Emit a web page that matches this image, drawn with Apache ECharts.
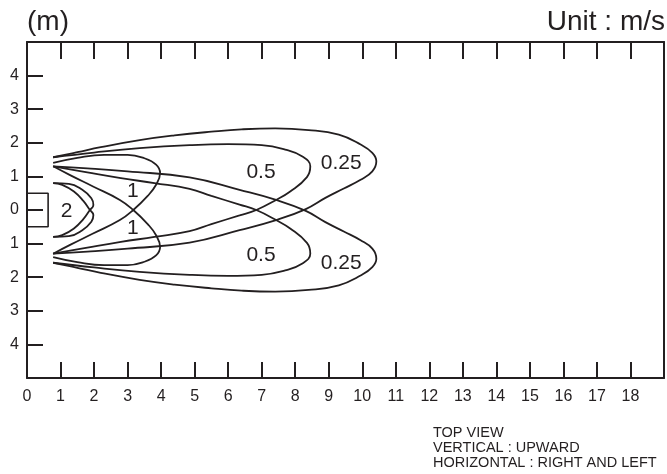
<!DOCTYPE html>
<html>
<head>
<meta charset="utf-8">
<script src="https://cdn.jsdelivr.net/npm/echarts@6/dist/echarts.min.js"></script>
<style>
html,body{margin:0;padding:0;background:#fff;}
#chart{width:667px;height:474px;}
</style>
</head>
<body>
<div id="chart"></div>
<script>
// ---- data ----
const xTickLabels = ['0','1','2','3','4','5','6','7','8','9','10','11','12','13','14','15','16','17','18'];
const yTickValues = [4,3,2,1,0,-1,-2,-3,-4];
const yTickLabels = ['4','3','2','1','0','1','2','3','4'];

// contour 0.25 m/s
const c025Upper = [[0.78,1.57],[1.5,1.72],[2.2,1.87],[3.36,2.08],[4.4,2.22],[5.5,2.33],[6.4,2.4],[7.4,2.43],[8.4,2.38],[9.3,2.24],[9.95,1.95],[10.3,1.7],[10.42,1.45],[10.3,1.15],[9.95,0.9],[9.45,0.64],[8.9,0.36],[8.3,0.02],[7.43,-0.3],[6.34,-0.6],[4.85,-0.97],[3.0,-1.15],[1.8,-1.24],[0.78,-1.3]];
const c025Lower = [[0.78,-1.57],[1.5,-1.72],[2.2,-1.87],[3.36,-2.08],[4.4,-2.22],[5.5,-2.33],[6.4,-2.4],[7.4,-2.43],[8.4,-2.38],[9.3,-2.24],[9.95,-1.95],[10.3,-1.7],[10.42,-1.45],[10.3,-1.15],[9.95,-0.9],[9.45,-0.64],[8.9,-0.36],[8.3,-0.02],[7.43,0.3],[6.34,0.6],[4.85,0.97],[3.0,1.15],[1.8,1.24],[0.78,1.3]];
// contour 0.5 m/s
const c05Upper = [[0.78,1.57],[2.0,1.71],[3.36,1.84],[4.85,1.93],[6.0,1.96],[7.0,1.93],[7.7,1.8],[8.2,1.6],[8.45,1.3],[8.35,0.98],[7.85,0.55],[7.43,0.3],[6.84,0.0],[6.34,-0.16],[5.5,-0.42],[4.85,-0.63],[3.8,-0.8],[2.8,-0.95],[1.8,-1.12],[0.78,-1.3]];
const c05Lower = [[0.78,-1.57],[2.0,-1.71],[3.36,-1.84],[4.85,-1.93],[6.0,-1.96],[7.0,-1.93],[7.7,-1.8],[8.2,-1.6],[8.45,-1.3],[8.35,-0.98],[7.85,-0.55],[7.43,-0.3],[6.84,0.0],[6.34,0.16],[5.5,0.42],[4.85,0.63],[3.8,0.8],[2.8,0.95],[1.8,1.12],[0.78,1.3]];
// contour 1 m/s
const c1Upper = [[0.78,1.4],[1.5,1.55],[2.3,1.64],[3.0,1.64],[3.5,1.54],[3.85,1.35],[3.97,1.1],[3.85,0.75],[3.6,0.42],[3.17,0.0],[2.77,-0.3],[1.97,-0.7],[1.3,-1.03],[0.78,-1.3]];
const c1Lower = [[0.78,-1.4],[1.5,-1.55],[2.3,-1.64],[3.0,-1.64],[3.5,-1.54],[3.85,-1.35],[3.97,-1.1],[3.85,-0.75],[3.6,-0.42],[3.17,0.0],[2.77,0.3],[1.97,0.7],[1.3,1.03],[0.78,1.3]];
// contour 2 m/s
const c2Upper = [[0.78,0.8],[1.25,0.78],[1.65,0.6],[1.92,0.35],[1.98,0.15],[1.86,-0.02],[1.68,-0.27],[1.4,-0.55],[1.05,-0.75],[0.78,-0.8]];
const c2Lower = [[0.78,-0.8],[1.25,-0.78],[1.65,-0.6],[1.92,-0.35],[1.98,-0.15],[1.86,0.02],[1.68,0.27],[1.4,0.55],[1.05,0.75],[0.78,0.8]];
// outlet box
const outletBox = [[0,0.5],[0.63,0.5],[0.63,-0.5],[0,-0.5]];

// contour labels
const labelTexts = ['2','1','1','0.5','0.5','0.25','0.25'];
const labelX = [1.18,3.16,3.16,6.98,6.98,9.37,9.37];
const labelY = [-0.05,0.55,-0.55,1.13,-1.34,1.4,-1.58];

// ---- chart ----
const INK = '#231f20';
const FONT = '"Liberation Sans", Arial, sans-serif';
const chart = echarts.init(document.getElementById('chart'), null, {renderer:'canvas'});

const curveSets = [c025Upper,c025Lower,c05Upper,c05Lower,c1Upper,c1Lower,c2Upper,c2Lower];
const series = curveSets.map(d => ({
  type:'line', data:d, smooth:0.45, symbol:'none',
  lineStyle:{color:INK, width:1.8}, silent:true, z:3
}));
series.push({
  type:'line', data:outletBox, smooth:false, symbol:'none',
  lineStyle:{color:INK, width:1.6}, silent:true, z:3
});
series.push({
  type:'scatter', symbolSize:0, silent:true, z:5,
  itemStyle:{opacity:1},
  data: labelTexts.map((t,i)=>({name:t, value:[labelX[i],labelY[i]]})),
  label:{show:true, position:'inside', formatter:p=>p.name, color:INK, opacity:1,
    textBorderWidth:0, fontSize:21, fontFamily:FONT}
});

const tickStyle = {color:INK, width:2};
chart.setOption({
  animation:false,
  backgroundColor:'#fff',
  grid:{left:27, right:2, top:42, bottom:96, containLabel:false},
  xAxis:[
    {type:'value', position:'bottom', min:0, max:19, interval:1,
     axisLine:{show:true, onZero:false, lineStyle:{color:INK, width:2}},
     axisTick:{show:true, inside:true, length:16, lineStyle:tickStyle},
     axisLabel:{show:true, margin:11, color:INK, fontSize:16, fontFamily:FONT,
       formatter:v=> (v>=0 && v<xTickLabels.length) ? xTickLabels[v] : ''},
     splitLine:{show:false}},
    {type:'value', position:'top', min:0, max:19, interval:1,
     axisLine:{show:true, onZero:false, lineStyle:{color:INK, width:2}},
     axisTick:{show:true, inside:true, length:17, lineStyle:tickStyle},
     axisLabel:{show:false}, splitLine:{show:false}}
  ],
  yAxis:[
    {type:'value', position:'left', min:-5, max:5, interval:1,
     axisLine:{show:true, onZero:false, lineStyle:{color:INK, width:2}},
     axisTick:{show:true, inside:true, length:16, lineStyle:tickStyle},
     axisLabel:{show:true, margin:8, color:INK, fontSize:16, fontFamily:FONT,
       formatter:v=>{const i=yTickValues.indexOf(v); return i<0?'':yTickLabels[i];}},
     splitLine:{show:false}},
    {type:'value', position:'right', min:-5, max:5, interval:1,
     axisLine:{show:true, onZero:false, lineStyle:{color:INK, width:2}},
     axisTick:{show:false}, axisLabel:{show:false}, splitLine:{show:false}}
  ],
  graphic:[
    {type:'text', left:27, top:8, style:{text:'(m)', fill:INK, font:'28px '+FONT}},
    {type:'text', right:2, top:8, style:{text:'Unit : m/s', fill:INK, font:'28px '+FONT}},
    {type:'text', left:433, top:425, style:{text:'TOP VIEW\nVERTICAL : UPWARD\nHORIZONTAL : RIGHT AND LEFT', fill:INK, font:'14.5px '+FONT, lineHeight:15}}
  ],
  series:series
});
</script>
</body>
</html>
